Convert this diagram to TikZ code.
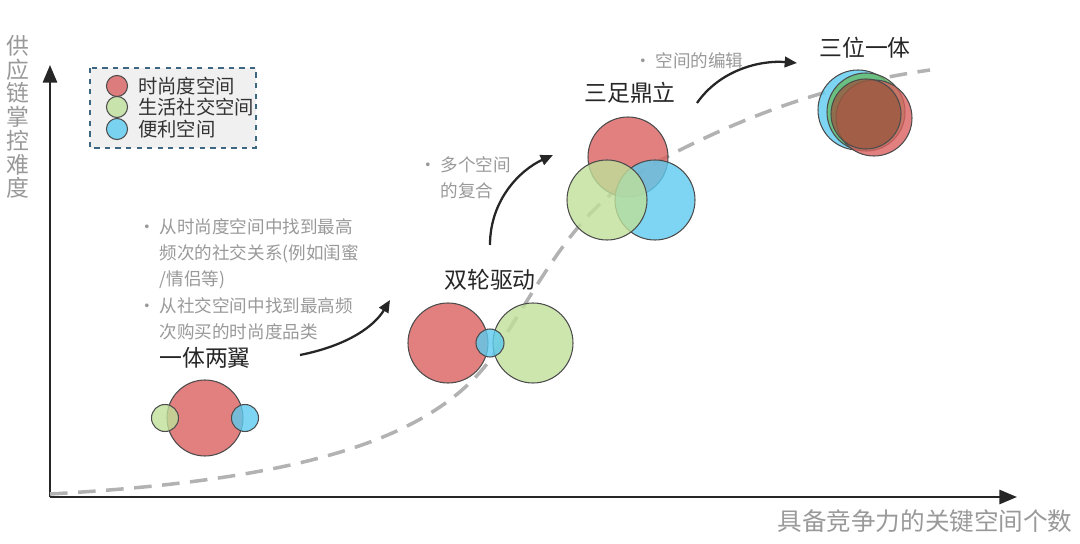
\documentclass[tikz,border=0pt]{standalone}
\usepackage{fontspec}
\setmainfont{Noto Sans CJK SC}
\usetikzlibrary{arrows.meta}
\definecolor{cr}{HTML}{D9605F}
\definecolor{cg}{HTML}{BFE09A}
\definecolor{cb}{HTML}{5CCBF0}
\definecolor{cbr}{HTML}{9A5A40}
\definecolor{gtxt}{HTML}{999999}
\definecolor{lgb}{HTML}{3D6680}
\tikzset{
 bub/.style={circle,draw=black!70,line width=0.6pt,fill opacity=0.8,inner sep=0pt},
 lab/.style={font=\fontsize{13}{15}\selectfont,text=black!85},
 note/.style={font=\fontsize{10}{15}\selectfont,text=gtxt,align=left,anchor=north west},
 flow/.style={-{Triangle[length=7pt,width=6pt]},line width=1.3pt,black!85},
}
\begin{document}
\begin{tikzpicture}[x=0.02cm,y=-0.02cm]
\useasboundingbox (0,0) rectangle (1080,544);
% axes
\coordinate (o) at (50,497);
\coordinate (ytop) at (50,65);
\coordinate (xend) at (1017,497);
\draw[-{Triangle[length=10pt,width=8pt]},line width=1.4pt,black!85] (o) -- (ytop);
\draw[-{Triangle[length=10pt,width=8pt]},line width=1.4pt,black!85] (o) -- (xend);
\node[font=\fontsize{13}{13.5}\selectfont,text=gtxt,align=center] (ylab) at (18,117) {供\\应\\链\\掌\\控\\难\\度};
\node[font=\fontsize{14}{17}\selectfont,text=gtxt] (xlab) at (925,521) {具备竞争力的关键空间个数};
% curve
\draw[dashed,dash pattern=on 10pt off 6pt,line width=2pt,gray!60] (50,494) .. controls (300,480) and (430,440) .. (490,360) .. controls (560,250) and (580,200) .. (680,150) .. controls (780,100) and (860,80) .. (930,70);
% legend
\draw[draw=lgb,dashed,line width=0.8pt,fill=black!6] (90,68) rectangle (256,148);
\node[bub,fill=cr,minimum size=16pt*0.75] (l1) at (117,86) {};
\node[bub,fill=cg,minimum size=16pt*0.75] (l2) at (117,107) {};
\node[bub,fill=cb,minimum size=16pt*0.75] (l3) at (117,129) {};
\node[font=\fontsize{11}{13}\selectfont,anchor=west,text=black!80] (lt1) at (132,86) {时尚度空间};
\node[font=\fontsize{11}{13}\selectfont,anchor=west,text=black!80] (lt2) at (132,107) {生活社交空间};
\node[font=\fontsize{11}{13}\selectfont,anchor=west,text=black!80] (lt3) at (132,129) {便利空间};
% group 1
\node[bub,fill=cr,minimum size=76*0.02cm] (r1) at (205,418) {};
\node[bub,fill=cg,minimum size=27*0.02cm] (g1) at (165,418) {};
\node[bub,fill=cb,minimum size=27*0.02cm] (b1) at (245,418) {};
\node[lab] (t1) at (205,358) {一体两翼};
% group 2
\node[bub,fill=cr,minimum size=80*0.02cm] (r2) at (448,343) {};
\node[bub,fill=cg,minimum size=80*0.02cm] (g2) at (533,343) {};
\node[bub,fill=cb,minimum size=28*0.02cm] (b2) at (490,343) {};
\node[lab] (t2) at (490,280) {双轮驱动};
% group 3
\node[bub,fill=cr,minimum size=80*0.02cm] (r3) at (628,157) {};
\node[bub,fill=cb,minimum size=80*0.02cm] (b3) at (655,200) {};
\node[bub,fill=cg,minimum size=80*0.02cm] (g3) at (607,200) {};
\node[lab] (t3) at (630,93) {三足鼎立};
% group 4
\node[bub,fill=cb,minimum size=80*0.02cm] (b4) at (858,110) {};
\node[bub,fill=green!55!black!60,minimum size=78*0.02cm] (g4) at (866,112) {};
\node[bub,fill=cr,minimum size=76*0.02cm] (r4) at (874,118) {};
\node[bub,fill=cbr,minimum size=70*0.02cm] (br4) at (866,114) {};
\node[lab] (t4) at (865,48) {三位一体};
% arrows
\coordinate (a1s) at (300,355); \coordinate (a1e) at (390,300);
\coordinate (a2s) at (490,245); \coordinate (a2e) at (553,155);
\coordinate (a3s) at (697,103); \coordinate (a3e) at (797,63);
\draw[flow] (a1s) .. controls (350,345) and (375,325) .. (a1e);
\draw[flow] (a2s) .. controls (490,200) and (520,170) .. (a2e);
\draw[flow] (a3s) .. controls (720,70) and (760,60) .. (a3e);
% notes
\node[note] (n1) at (132,212) {•\ 从时尚度空间中找到最高\\\phantom{•\ }频次的社交关系(例如闺蜜\\\phantom{•\ }/情侣等)\\•\ 从社交空间中找到最高频\\\phantom{•\ }次购买的时尚度品类};
\node[note] (n2) at (413,150) {•\ 多个空间\\\phantom{•\ }的复合};
\node[note] (n3) at (628,46) {•\ 空间的编辑};
\end{tikzpicture}
\end{document}
